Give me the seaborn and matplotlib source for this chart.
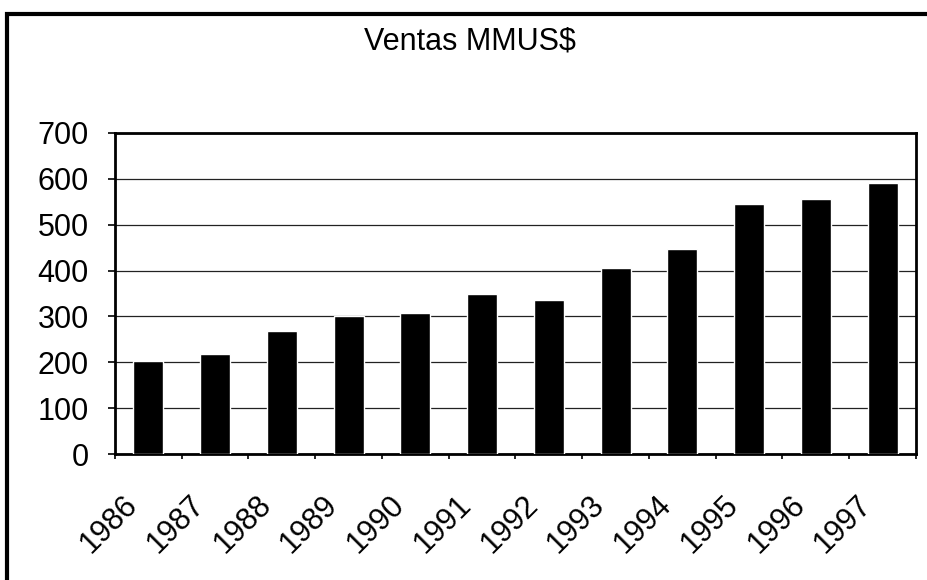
import numpy as np
import pandas as pd
import seaborn as sns
import matplotlib.pyplot as plt
from matplotlib.patches import Rectangle
from matplotlib.transforms import ScaledTranslation

years = ["1986", "1987", "1988", "1989", "1990", "1991",
         "1992", "1993", "1994", "1995", "1996", "1997"]
ventas = [202, 217, 269, 300, 307, 350, 335, 406, 446, 545, 557, 590]
y_ticks = [0, 100, 200, 300, 400, 500, 600, 700]

sns.set_style("white")
plt.rcParams['font.family'] = ['Liberation Sans', 'DejaVu Sans']
plt.rcParams['text.color'] = 'black'
plt.rcParams['xtick.color'] = 'black'
plt.rcParams['ytick.color'] = 'black'

df = pd.DataFrame({"year": years, "ventas": ventas})

fig = plt.figure(figsize=(9.28, 5.8), dpi=100)
ax = fig.add_axes([115 / 928, 126 / 580, 801 / 928, 321 / 580])

sns.barplot(data=df, x="year", y="ventas", color="black", width=0.45,
            saturation=1, ax=ax, zorder=3)

ax.set_ylim(0, 700)
ax.set_xlim(-0.5, len(years) - 0.5)
ax.set_yticks(y_ticks)
ax.set_yticklabels([str(v) for v in y_ticks], fontsize=22)
ax.yaxis.grid(True, color="#222222", linewidth=0.9, zorder=0)
ax.set_xlabel("")
ax.set_ylabel("")

# category labels, ticks between the categories
ax.set_xticks(range(len(years)))
ax.set_xticklabels(years, fontsize=22, rotation=45, ha="right",
                   va="top", rotation_mode="anchor")
ax.set_xticks(np.arange(-0.5, len(years)), minor=True)
ax.tick_params(axis="x", which="major", length=0, pad=26)
ax.tick_params(axis="x", which="minor", length=3.6, width=1.2,
               direction="out", color="black", bottom=True)
ax.tick_params(axis="y", which="major", length=5, width=1.2,
               direction="out", color="black", left=True, pad=14)
shift = ScaledTranslation(-26 / 100, 0, fig.dpi_scale_trans)
for lab in ax.get_xticklabels():
    lab.set_transform(lab.get_transform() + shift)

for side in ["left", "right", "top", "bottom"]:
    ax.spines[side].set_visible(True)
    ax.spines[side].set_color("black")
    ax.spines[side].set_linewidth(2)

fig.text(470 / 928, 1 - 50 / 580, "Ventas MMUS$", ha="center",
         va="baseline", fontsize=22)

# frame around the whole chart
fig.patches.append(Rectangle((7 / 928, -0.1), 1.2, 1 - 14 / 580 + 0.1,
                             transform=fig.transFigure, fill=False,
                             lw=3, ec="black"))

fig.savefig("out.png", dpi=100)
